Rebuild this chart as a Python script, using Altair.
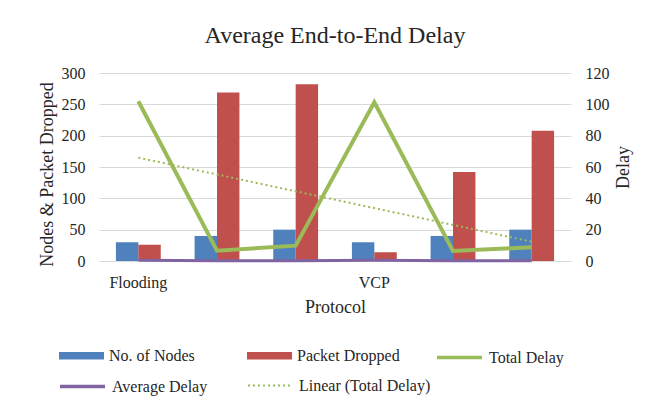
import altair as alt
import pandas as pd
import numpy as np

# ---- data ----
x_labels = ["Flooding", "", "", "VCP", "", ""]
nodes = [30, 40, 50, 30, 40, 50]
packet_dropped = [26, 269, 282, 14, 142, 208]
total_delay = [102, 6.6, 9.8, 101.3, 6.4, 8.7]
average_delay = [0.4, 0.2, 0.2, 0.4, 0.2, 0.2]

bar_series = ["No. of Nodes", "Packet Dropped"]
bar_colors = ["#4f81bd", "#c0504d"]
total_series = ["Total Delay"]
total_colors = ["#9bbb59"]
avg_series = ["Average Delay"]
avg_colors = ["#8064a2"]
trend_series = ["Linear (Total Delay)"]
trend_colors = ["#9bbb59"]

FONT = "'Liberation Serif', 'Times New Roman', 'DejaVu Serif', serif"
TXT = "#262626"

slots = list(range(len(x_labels)))

bars = pd.DataFrame(
    [{"slot": s, "series": bar_series[0], "value": v} for s, v in zip(slots, nodes)]
    + [{"slot": s, "series": bar_series[1], "value": v} for s, v in zip(slots, packet_dropped)]
)

# linear trend line of Total Delay (as Excel computes it)
slope, intercept = np.polyfit(np.arange(1, len(slots) + 1), total_delay, 1)
trend = [intercept + slope * (i + 1) for i in slots]

total_df = pd.DataFrame({"slot": slots, "series": total_series[0], "value": total_delay})
avg_df = pd.DataFrame({"slot": slots, "series": avg_series[0], "value": average_delay})
trend_df = pd.DataFrame({"slot": slots, "series": trend_series[0], "value": trend})

label_arr = "[" + ",".join("'" + l + "'" for l in x_labels) + "]"

common_legend = dict(
    title=None, orient="none", direction="horizontal",
    symbolSize=2025, labelFont=FONT, labelFontSize=16, labelColor=TXT,
    labelOffset=5, symbolOpacity=1,
)

x_enc = alt.X(
    "slot:O",
    scale=alt.Scale(paddingInner=0.43, paddingOuter=0.215),
    axis=alt.Axis(
        title="Protocol", labelExpr=f"{label_arr}[datum.value]",
        labelAngle=0, domain=False, ticks=False, tickSize=0,
        labelPadding=13, titlePadding=8,
    ),
)

bar_layer = alt.Chart(bars).mark_bar().encode(
    x=x_enc,
    xOffset=alt.XOffset("series:N", sort=bar_series),
    y=alt.Y(
        "value:Q",
        scale=alt.Scale(domain=[0, 300]),
        axis=alt.Axis(
            title="Nodes & Packet Dropped", values=[0, 50, 100, 150, 200, 250, 300],
            domain=False, ticks=False, tickSize=0, labelPadding=14, titlePadding=5,
            grid=True, titleY=101,
        ),
    ),
    color=alt.Color(
        "series:N", scale=alt.Scale(domain=bar_series, range=bar_colors),
        legend=alt.Legend(
            legendX=-40, legendY=260, columnPadding=52,
            symbolType="M-1,-0.17H1V0.17H-1Z", symbolStrokeWidth=0,
            **common_legend,
        ),
    ),
)

y_right = alt.Y(
    "value:Q",
    scale=alt.Scale(domain=[0, 120]),
    axis=alt.Axis(
        title="Delay", orient="right", values=[0, 20, 40, 60, 80, 100, 120],
        domain=False, ticks=False, tickSize=0, labelPadding=14, titlePadding=23,
        grid=False, titleAngle=270,
    ),
)


def line_layer(df, domain, colors, width, lx, ly, legend_width, dash=None):
    mark_kw = dict(strokeWidth=width, strokeJoin="miter")
    leg_kw = dict(legendX=lx, legendY=ly, symbolType="stroke",
                  symbolStrokeWidth=legend_width, **common_legend)
    if dash is not None:
        mark_kw["strokeDash"] = dash
        leg_kw["symbolDash"] = dash
    return alt.Chart(df).mark_line(**mark_kw).encode(
        x=x_enc,
        y=y_right,
        color=alt.Color("series:N", scale=alt.Scale(domain=domain, range=colors),
                        legend=alt.Legend(**leg_kw)),
        order=alt.Order("slot:O"),
    )


avg_layer = line_layer(avg_df, avg_series, avg_colors, 3, -41, 289, 3.5)
trend_layer = line_layer(trend_df, trend_series, trend_colors, 2, 148, 289, 2, dash=[2, 3])
total_layer = line_layer(total_df, total_series, total_colors, 4, 336, 260, 3.5)

delay_layers = alt.layer(avg_layer, trend_layer, total_layer).resolve_scale(color="independent")

chart = (
    alt.layer(bar_layer, delay_layers)
    .resolve_scale(y="independent", color="independent")
    .properties(
        width=472, height=188,
        autosize=alt.AutoSizeParams(type="none"),
        padding={"left": 91, "top": 65, "right": 70, "bottom": 135},
        title=alt.TitleParams(
            "Average End-to-End Delay", font=FONT, fontSize=24,
            fontWeight="normal", color=TXT, offset=17,
        ),
    )
    .configure_view(stroke=None)
    .configure_axis(
        labelFont=FONT, labelFontSize=16, labelColor=TXT,
        titleFont=FONT, titleFontSize=18, titleFontWeight="normal", titleColor=TXT,
        gridColor="#d9d9d9", gridWidth=1,
    )
)

chart.save("out.html", embed_options={"renderer": "svg", "actions": False})
